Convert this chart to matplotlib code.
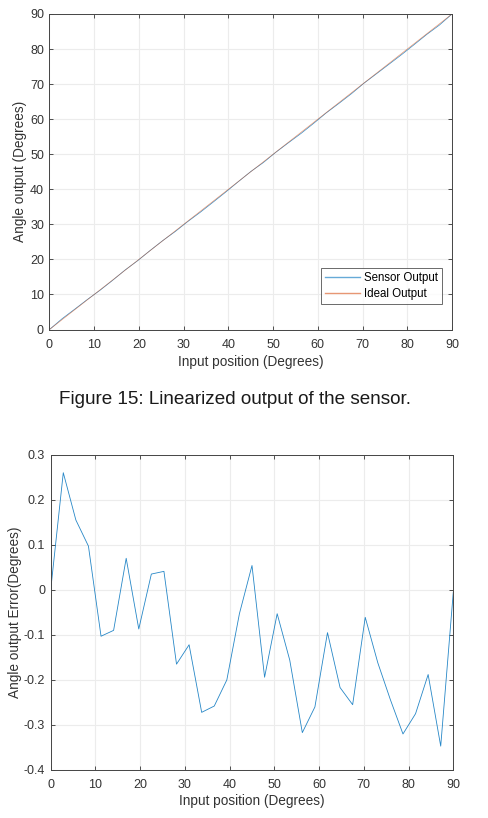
import numpy as np
import matplotlib
matplotlib.use("Agg")
from matplotlib import pyplot as plt

# input positions (deg), 33 samples from 0 to 90
position = np.linspace(0, 90, 33)

error = [0.0, 0.26, 0.155, 0.097, -0.103, -0.09, 0.07, -0.087, 0.035, 0.041,
         -0.165, -0.122, -0.272, -0.258, -0.2, -0.053, 0.054, -0.194, -0.053,
         -0.156, -0.317, -0.26, -0.095, -0.217, -0.255, -0.061, -0.162, -0.244,
         -0.32, -0.275, -0.188, -0.347, -0.005]

ideal = position
sensor = position + np.array(error)

BLUE = '#0072BD'
ORANGE = '#D95319'
DARK = '#333333'

plt.rcParams['font.family'] = ['Liberation Sans', 'DejaVu Sans']

fig = plt.figure(figsize=(4.89, 8.18), dpi=100)
W, H = 489, 818


def style(ax):
    ax.grid(True, color='#ececec', linewidth=0.8)
    ax.set_axisbelow(True)
    ax.tick_params(direction='in', top=True, right=True, length=3,
                   width=0.6, colors=DARK, labelsize=9, pad=4)
    ax.tick_params(axis='x', pad=6.5)
    for s in ax.spines.values():
        s.set_color('#444444')
        s.set_linewidth(0.7)


# top plot: linearized output
ax1 = fig.add_axes([49.5 / W, 1 - 329.5 / H, 402.5 / W, 315.5 / H])
ax1.plot(position, sensor, color=BLUE, linewidth=0.5, alpha=0.8, label='Sensor Output')
ax1.plot(position, ideal, color=ORANGE, linewidth=0.5, alpha=0.6, label='Ideal Output')
ax1.set_xlim(0, 90)
ax1.set_ylim(0, 90)
ax1.set_xticks(range(0, 91, 10))
ax1.set_yticks(range(0, 91, 10))
ax1.set_xlabel('Input position (Degrees)', fontsize=9.8, color=DARK, labelpad=3)
ax1.set_ylabel('Angle output (Degrees)', fontsize=9.8, color=DARK, labelpad=2)
style(ax1)
leg = ax1.legend(loc='lower right', bbox_to_anchor=(0.975, 0.081), borderaxespad=0,
                 fontsize=8.3, frameon=True, fancybox=False, handlelength=3.0,
                 borderpad=0.35, labelspacing=0.3, handletextpad=0.35)
leg.get_frame().set_edgecolor('#444444')
leg.get_frame().set_linewidth(0.7)
for line, c in zip(leg.get_lines(), [BLUE, ORANGE]):
    line.set_color(c)
    line.set_alpha(0.6)
    line.set_linewidth(1.0)

fig.text(235 / W, 1 - 399 / H, 'Figure 15: Linearized output of the sensor.',
         ha='center', va='center', fontsize=13.6, color='#1a1a1a')

# bottom plot: error
ax2 = fig.add_axes([50.7 / W, 1 - 770 / H, 402.6 / W, 315.3 / H])
ax2.plot(position, error, color=BLUE, linewidth=0.6, alpha=0.85)
ax2.set_xlim(0, 90)
ax2.set_ylim(-0.4, 0.3)
ax2.set_xticks(range(0, 91, 10))
ax2.set_yticks(np.arange(-0.4, 0.31, 0.1))
ax2.set_yticklabels(['-0.4', '-0.3', '-0.2', '-0.1', '0', '0.1', '0.2', '0.3'])
ax2.set_xlabel('Input position (Degrees)', fontsize=9.8, color=DARK, labelpad=2)
ax2.set_ylabel('Angle output Error(Degrees)', fontsize=9.8, color=DARK, labelpad=1)
style(ax2)

fig.savefig('out.png', dpi=100)
